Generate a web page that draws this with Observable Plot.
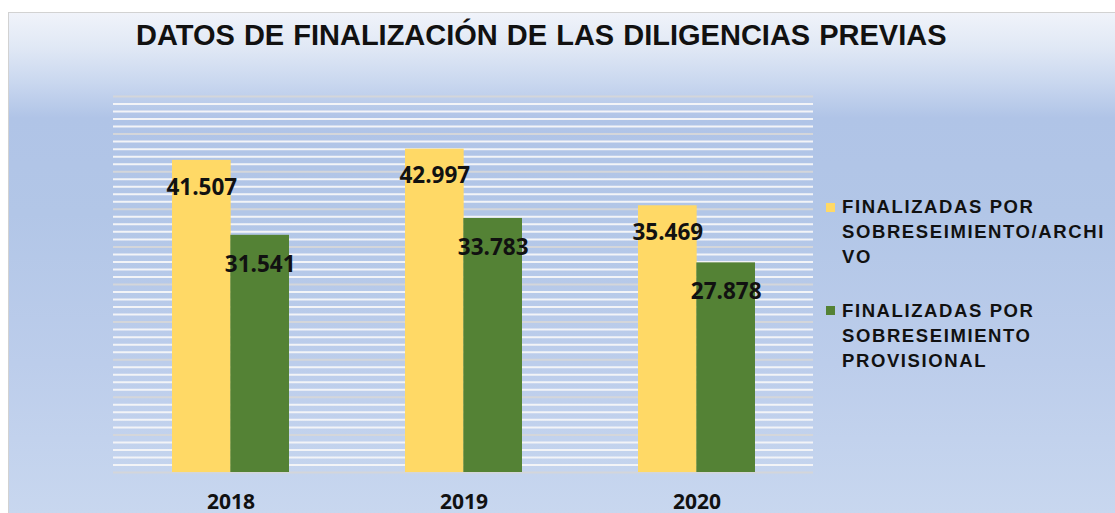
<!DOCTYPE html>
<html>
<head>
<meta charset="utf-8">
<script src="https://cdn.jsdelivr.net/npm/d3@7"></script>
<script src="https://cdn.jsdelivr.net/npm/@observablehq/plot@0.6"></script>
<style>
  html, body { margin: 0; padding: 0; background: #ffffff; }
  #wrap { position: relative; width: 1115px; height: 513px; overflow: hidden; background: #ffffff; }
  #bg { position: absolute; left: 8px; top: 12px; width: 1107px; height: 501px;
        border-top: 1.5px solid #d2d2d2; border-left: 1.5px solid #d2d2d2; box-sizing: border-box;
        background: linear-gradient(to bottom, #f0f3fa 0px, #e0e8f5 35px, #c9d7ef 70px, #b0c4e7 105px, #b2c6e7 200px, #bccdeb 350px, #c8d7ef 501px); }
  #chart { position: absolute; left: 0; top: 0; }
  .title { position: absolute; left: 136px; top: 20.5px; font-family: "Liberation Sans", Arial, sans-serif;
           font-weight: bold; font-size: 29px; line-height: 29px; color: #111; white-space: nowrap; word-spacing: 1px; }
  .leg { position: absolute; left: 842px; font-family: "Liberation Sans", Arial, sans-serif; font-weight: bold;
         font-size: 18.5px; line-height: 25px; color: #111; white-space: nowrap; letter-spacing: 1.6px; }
  .sw { position: absolute; left: 826px; width: 9px; height: 9px; }
</style>
</head>
<body>
<div id="wrap">
  <div id="bg"></div>
  <div id="chart"></div>
</div>
<script>
// ---- data ----
const chartTitle = "DATOS DE FINALIZACIÓN DE LAS DILIGENCIAS PREVIAS";
const years = ["2018", "2019", "2020"];
const seriesNames = ["FINALIZADAS POR SOBRESEIMIENTO/ARCHIVO", "FINALIZADAS POR SOBRESEIMIENTO PROVISIONAL"];
const legendLines = [["FINALIZADAS POR", "SOBRESEIMIENTO/ARCHI", "VO"], ["FINALIZADAS POR", "SOBRESEIMIENTO", "PROVISIONAL"]];
const archivo = [41507, 42997, 35469];
const provisional = [31541, 33783, 27878];
const seriesColors = ["#ffd966", "#548235"];
const yMax = 50000;
const gridStep = 1000;
const majorStep = 5000;

const esFormat = d3.formatLocale({decimal: ",", thousands: ".", grouping: [3], currency: ["", " €"]}).format(",d");

const rowsA = years.map((y, i) => ({year: y, value: archivo[i], series: seriesNames[0]}));
const rowsP = years.map((y, i) => ({year: y, value: provisional[i], series: seriesNames[1]}));
const gridValues = d3.range(0, yMax + 1, gridStep);

const W = 1115, H = 513;
const mL = 113, mR = 302, mT = 96, mB = 41;
const band = (W - mL - mR) / (years.length - 0.5 + 0.5);
const half = band * 0.5 / 2;

const plot = Plot.plot({
  width: W,
  height: H,
  marginLeft: mL,
  marginRight: mR,
  marginTop: mT,
  marginBottom: mB,
  style: {background: "transparent", fontFamily: "Open Sans, sans-serif", overflow: "visible"},
  x: {domain: years, paddingInner: 0.5, paddingOuter: 0.25, axis: null},
  y: {domain: [0, yMax], axis: null},
  marks: [
    Plot.ruleY(gridValues.filter(v => v % majorStep !== 0), {y: d => d, stroke: "#f3f4f7", strokeWidth: 2}),
    Plot.ruleY(gridValues.filter(v => v % majorStep === 0), {y: d => d, stroke: "#d4d6da", strokeWidth: 2}),
    Plot.barY(rowsA, {x: "year", y: "value", fill: seriesColors[0], insetRight: half}),
    Plot.barY(rowsP, {x: "year", y: "value", fill: seriesColors[1], insetLeft: half}),
    Plot.text(rowsA, {x: "year", y: "value", text: d => esFormat(d.value), dx: -half / 2, dy: 27,
      fontSize: 22.5, fontWeight: "bold", fill: "#111", textAnchor: "middle", lineAnchor: "middle"}),
    Plot.text(rowsP, {x: "year", y: "value", text: d => esFormat(d.value), dx: half / 2, dy: 29,
      fontSize: 22.5, fontWeight: "bold", fill: "#111", textAnchor: "middle", lineAnchor: "middle"}),
    Plot.text(years, {x: d => d, frameAnchor: "bottom", text: d => d, dy: 30,
      fontSize: 21, fontWeight: "bold", fill: "#111", lineAnchor: "middle"})
  ]
});
document.getElementById("chart").appendChild(plot);

const wrap = document.getElementById("wrap");
const t = document.createElement("div");
t.className = "title";
t.textContent = chartTitle;
wrap.appendChild(t);

const legTops = [194.1, 298.1];
const swTops = [203, 306];
legendLines.forEach((lines, i) => {
  const sw = document.createElement("div");
  sw.className = "sw";
  sw.style.top = swTops[i] + "px";
  sw.style.background = seriesColors[i];
  wrap.appendChild(sw);
  const d = document.createElement("div");
  d.className = "leg";
  d.style.top = legTops[i] + "px";
  d.innerHTML = lines.map(l => `<div>${l}</div>`).join("");
  wrap.appendChild(d);
});
</script>
</body>
</html>
